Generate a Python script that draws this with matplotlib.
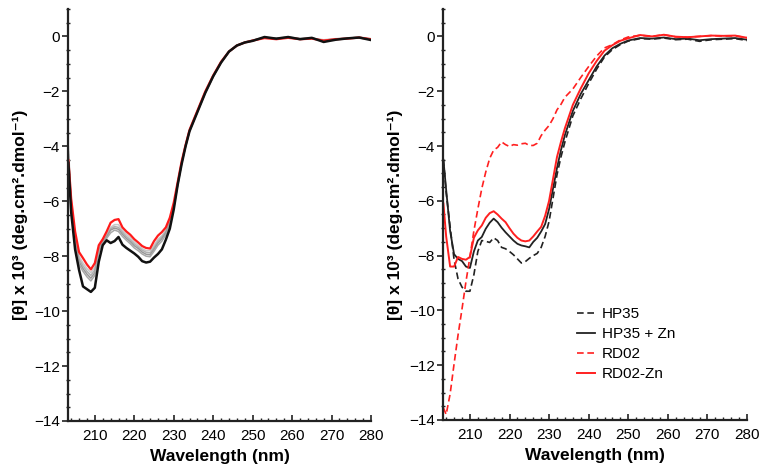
import matplotlib
matplotlib.use("Agg")
import matplotlib.pyplot as plt
from matplotlib.ticker import MultipleLocator

plt.rcParams['font.family'] = ['Liberation Sans', 'DejaVu Sans']

wavelength = [203.3, 204, 205, 206, 207, 208, 209, 210, 211, 212, 213, 214, 215, 216, 217, 218,
              219, 220, 221, 222, 223, 224, 225, 226, 227, 228, 229, 230, 231, 232, 233, 234,
              236, 238, 240, 242, 244, 246, 248, 250, 253, 256, 259, 262, 265, 268, 271, 274, 277, 280]

# ---- left panel ----
left_black = [-4.6, -6.4, -7.75, -8.5, -9.1, -9.2, -9.3, -9.15, -8.2, -7.6, -7.42, -7.52, -7.45, -7.3, -7.58, -7.7,
              -7.8, -7.9, -8.02, -8.18, -8.23, -8.2, -8.05, -7.92, -7.75, -7.4, -7.0, -6.3, -5.4, -4.65, -4.0, -3.45,
              -2.75, -2.05, -1.45, -0.95, -0.55, -0.33, -0.22, -0.16, -0.02, -0.08, -0.02, -0.1, -0.05, -0.2, -0.12, -0.07, -0.04, -0.13]
left_red = [-4.5, -5.9, -7.1, -7.85, -8.07, -8.3, -8.48, -8.25, -7.6, -7.38, -7.1, -6.78, -6.68, -6.65, -6.95, -7.1,
            -7.22, -7.38, -7.5, -7.63, -7.7, -7.72, -7.45, -7.25, -7.12, -6.95, -6.6, -6.05, -5.3, -4.55, -3.95, -3.4,
            -2.7, -2.0, -1.42, -0.92, -0.55, -0.33, -0.22, -0.15, -0.06, -0.1, -0.05, -0.1, -0.08, -0.15, -0.1, -0.08, -0.04, -0.1]
left_grey1 = [-4.0, -5.9, -7.3, -8.0, -8.25, -8.45, -8.6, -8.4, -7.7, -7.42, -7.2, -6.95, -6.85, -6.85, -7.05, -7.2,
              -7.32, -7.48, -7.6, -7.72, -7.8, -7.8, -7.6, -7.38, -7.25, -7.05, -6.7, -6.15, -5.38, -4.6, -3.98, -3.42,
              -2.72, -2.02, -1.44, -0.93, -0.55, -0.32, -0.2, -0.13, -0.03, -0.06, -0.02, -0.07, -0.06, -0.12, -0.08, -0.05, -0.02, -0.08]
left_grey2 = [-4.2, -6.0, -7.4, -8.1, -8.35, -8.55, -8.7, -8.5, -7.75, -7.45, -7.25, -7.0, -6.92, -6.95, -7.12, -7.28,
              -7.4, -7.55, -7.66, -7.78, -7.86, -7.88, -7.68, -7.45, -7.3, -7.1, -6.75, -6.2, -5.4, -4.62, -4.0, -3.44,
              -2.74, -2.04, -1.45, -0.94, -0.56, -0.33, -0.21, -0.14, -0.04, -0.07, -0.03, -0.08, -0.06, -0.14, -0.09, -0.06, -0.03, -0.1]
left_grey3 = [-4.3, -6.1, -7.5, -8.2, -8.45, -8.65, -8.8, -8.6, -7.8, -7.48, -7.3, -7.05, -6.98, -7.02, -7.2, -7.35,
              -7.47, -7.62, -7.72, -7.85, -7.93, -7.95, -7.75, -7.52, -7.36, -7.15, -6.8, -6.22, -5.42, -4.63, -4.0, -3.45,
              -2.75, -2.05, -1.46, -0.95, -0.56, -0.34, -0.22, -0.15, -0.05, -0.08, -0.04, -0.09, -0.07, -0.16, -0.1, -0.07, -0.04, -0.11]
left_grey4 = [-4.4, -6.2, -7.6, -8.3, -8.55, -8.75, -8.9, -8.7, -7.85, -7.5, -7.35, -7.15, -7.05, -7.1, -7.28, -7.42,
              -7.55, -7.7, -7.8, -7.92, -8.0, -8.02, -7.82, -7.6, -7.45, -7.22, -6.85, -6.25, -5.42, -4.64, -4.0, -3.45,
              -2.75, -2.05, -1.46, -0.95, -0.56, -0.34, -0.22, -0.15, -0.04, -0.07, -0.03, -0.08, -0.06, -0.15, -0.1, -0.06, -0.03, -0.1]

# ---- right panel ----
hp35 = [-4.5, -5.7, -6.95, -8.15, -8.85, -9.15, -9.3, -9.3, -8.7, -7.85, -7.45, -7.48, -7.52, -7.35, -7.45, -7.7,
        -7.75, -7.85, -7.97, -8.12, -8.27, -8.22, -8.1, -8.0, -7.92, -7.7, -7.3, -6.75, -5.9, -5.05, -4.4, -3.85,
        -2.9, -2.28, -1.72, -1.2, -0.75, -0.48, -0.3, -0.17, -0.08, -0.1, -0.06, -0.12, -0.1, -0.18, -0.12, -0.1, -0.08, -0.15]
hp35_zn = [-4.5, -5.6, -7.1, -7.95, -8.12, -8.2, -8.4, -8.45, -7.85, -7.45, -7.32, -7.02, -6.8, -6.65, -6.78, -6.98,
           -7.15, -7.3, -7.45, -7.57, -7.63, -7.66, -7.7, -7.5, -7.35, -7.12, -6.85, -6.3, -5.55, -4.8, -4.15, -3.6,
           -2.72, -2.1, -1.6, -1.1, -0.7, -0.43, -0.27, -0.15, -0.06, -0.08, -0.04, -0.1, -0.08, -0.14, -0.1, -0.08, -0.06, -0.12]
rd02 = [-13.55, -13.8, -13.05, -11.95, -10.9, -9.95, -8.95, -8.05, -7.1, -6.3, -5.55, -4.95, -4.45, -4.15, -4.05, -3.85,
        -3.95, -4.02, -3.95, -3.97, -3.92, -3.9, -3.98, -3.98, -3.9, -3.62, -3.42, -3.25, -3.0, -2.68, -2.48, -2.22,
        -1.92, -1.5, -1.1, -0.72, -0.42, -0.3, -0.13, -0.02, 0.04, 0.0, 0.06, -0.02, -0.03, 0.0, 0.03, 0.01, 0.02, -0.05]
rd02_zn = [-6.1, -7.3, -8.4, -8.4, -8.05, -8.12, -8.15, -8.05, -7.35, -7.08, -6.9, -6.62, -6.45, -6.38, -6.5, -6.65,
           -6.78, -7.0, -7.2, -7.35, -7.45, -7.48, -7.45, -7.3, -7.12, -6.95, -6.55, -6.0, -5.2, -4.4, -3.85, -3.35,
           -2.5, -1.9, -1.35, -0.9, -0.52, -0.32, -0.16, -0.07, 0.05, 0.0, 0.06, -0.01, -0.03, 0.0, 0.03, 0.02, 0.03, -0.05]

legend_labels = ["HP35", "HP35 + Zn", "RD02", "RD02-Zn"]
x_ticks = [210, 220, 230, 240, 250, 260, 270, 280]
y_ticks = [0, -2, -4, -6, -8, -10, -12, -14]

fig = plt.figure(figsize=(7.63, 4.71), dpi=100)
ax1 = fig.add_axes([68/763, 50/471, 303/763, 412/471])
ax2 = fig.add_axes([443/763, 51/471, 304/763, 411/471])

ylabel = "[θ] x 10³ (deg.cm².dmol⁻¹)"

for ax in (ax1, ax2):
    ax.set_xlim(203.2, 280)
    ax.set_ylim(-14, 1)
    ax.set_xticks(x_ticks)
    ax.set_yticks(y_ticks)
    ax.xaxis.set_minor_locator(MultipleLocator(2))
    ax.yaxis.set_minor_locator(MultipleLocator(0.5))
    for s in ("top", "right"):
        ax.spines[s].set_visible(False)
    for s in ("left", "bottom"):
        ax.spines[s].set_linewidth(1.6)
        ax.spines[s].set_color("#222222")
    ax.tick_params(axis='y', which='major', direction='out', length=4, width=1.2, labelsize=11, pad=2, color="#222222")
    ax.tick_params(axis='y', which='minor', direction='inout', length=3, width=1.0, color="#222222")
    ax.tick_params(axis='x', which='major', direction='in', length=4, width=1.2, labelsize=11, pad=6, color="#222222")
    ax.tick_params(axis='x', which='minor', direction='in', length=2.5, width=1.0, color="#222222")
    ax.set_xlabel("Wavelength (nm)", fontsize=12.5, fontweight='bold', labelpad=4)
    ax.set_ylabel(ylabel, fontsize=12.5, fontweight='bold', labelpad=4)

# left panel curves
ax1.plot(wavelength, left_grey1, color="#c8c8c8", lw=1.1)
ax1.plot(wavelength, left_grey2, color="#b0b0b0", lw=1.1)
ax1.plot(wavelength, left_grey3, color="#989898", lw=1.1)
ax1.plot(wavelength, left_grey4, color="#a8a8a8", lw=1.1)
ax1.plot(wavelength, left_red, color="#ff1a1a", lw=1.6)
ax1.plot(wavelength, left_black, color="#111111", lw=1.8)

# right panel curves
dash = (0, (4, 2.2))
ax2.plot(wavelength, hp35, color="#222222", lw=1.2, linestyle=dash, label=legend_labels[0])
ax2.plot(wavelength, hp35_zn, color="#222222", lw=1.3, label=legend_labels[1])
ax2.plot(wavelength, rd02, color="#ff2020", lw=1.2, linestyle=dash, label=legend_labels[2])
ax2.plot(wavelength, rd02_zn, color="#ff2020", lw=1.4, label=legend_labels[3])

ax2.legend(loc='upper left', bbox_to_anchor=(0.44, 0.275), frameon=False, fontsize=11,
           handlelength=1.2, handletextpad=0.45, labelspacing=0.4, borderaxespad=0, borderpad=0)

fig.savefig("out.png", dpi=100)
